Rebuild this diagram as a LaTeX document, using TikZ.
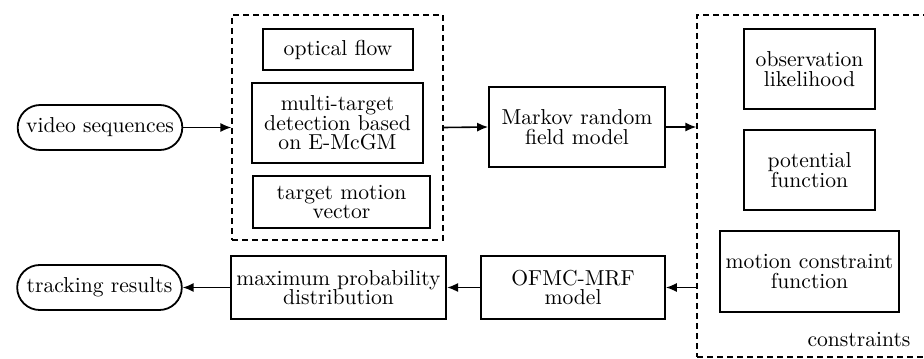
\documentclass[tikz,border=0pt]{standalone}
\usepackage{tikz}
\usetikzlibrary{arrows.meta,positioning,shapes.misc}

\begin{document}
\begin{tikzpicture}[
  x=0.5pt,
  y=-0.5pt,
  >={Latex[length=5.5pt,width=4.6pt]},
  font=\fontsize{10.8}{9.8}\selectfont,
  block/.style={
    draw,
    line width=0.9pt,
    align=center,
    inner sep=1mm
  },
  pill/.style={
    block,
    rounded rectangle,
    minimum width=88pt,
    minimum height=22.5pt
  },
  group/.style={
    draw,
    line width=0.7pt,
    dash pattern=on 3pt off 2pt,
    inner sep=0pt
  },
  link/.style={->,line width=0.8pt}
]
  \useasboundingbox (0,0) rectangle (924,358);

  % left column
  \node[pill] (video) at (100,127.5) {video sequences};
  \node[pill] (tracking) at (99.5,287.5) {tracking results};

  % features group
  \node[group,minimum width=105.5pt,minimum height=112.5pt] (feat) at (337.5,127.5) {};
  \node[block,minimum width=75pt,minimum height=20.5pt] (optical) at (338,49.5) {optical flow};
  \node[block,minimum width=85.5pt,minimum height=40pt] (detect) at (337.5,123)
    {multi-target\\detection based\\on E-McGM};
  \node[block,minimum width=88.5pt,minimum height=26pt] (motion) at (341.5,202)
    {target motion\\vector};

  \node[block,minimum width=88pt,minimum height=40pt] (markov) at (577,127)
    {Markov random\\field model};

  % constraints group (runs off the right edge)
  \node[group,minimum width=125pt,minimum height=171pt] (cons) at (822,186) {};
  \node[block,minimum width=65.5pt,minimum height=40pt] (obs) at (809.5,69)
    {observation\\likelihood};
  \node[block,minimum width=65.5pt,minimum height=40pt] (potential) at (809.5,170)
    {potential\\function};
  \node[block,minimum width=88.5pt,minimum height=40.5pt] (mcf) at (809.5,271.5)
    {motion constraint\\function};
  \node (conslabel) at (859,340) {constraints};

  % bottom row
  \node[block,minimum width=92pt,minimum height=31.5pt] (ofmc) at (573,287.5)
    {OFMC-MRF\\model};
  \node[block,minimum width=106.5pt,minimum height=31.5pt] (maxprob) at (338.5,287.5)
    {maximum probability\\distribution};

  \draw[link] (video.east) -- (feat.west);
  \draw[link] (feat.east) -- (markov.west);
  \draw[link] (markov.east) -- (markov.east -| cons.west);
  \draw[link] (cons.west |- ofmc.east) -- (ofmc.east);
  \draw[link] (ofmc.west) -- (maxprob.east);
  \draw[link] (maxprob.west) -- (tracking.east);
\end{tikzpicture}
\end{document}
